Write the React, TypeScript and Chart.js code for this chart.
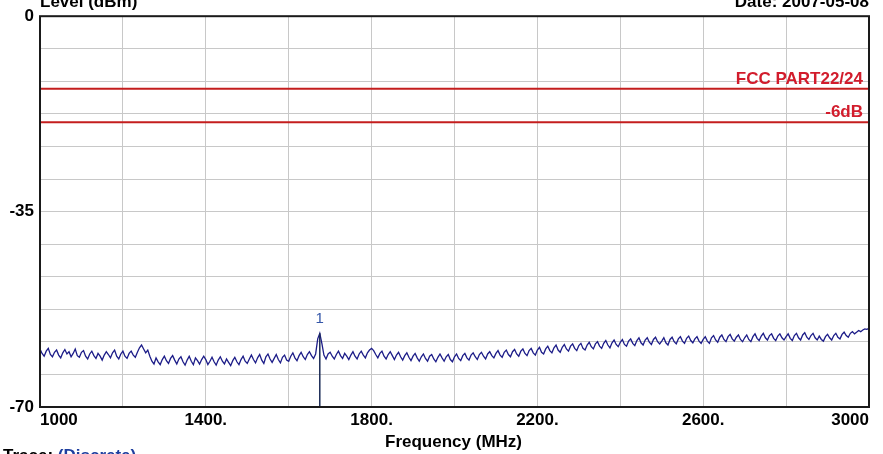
import React, { useEffect, useRef } from 'react';
import { Chart, registerables } from 'chart.js';

Chart.register(...registerables);

// ---- Data ----
const FREQ_START = 1000; // MHz
const FREQ_STEP = 5; // MHz between trace samples

// Measured level (dBm) every 5 MHz from 1000 to 3000 MHz
const traceLevels: number[] = [
  // 1000-1095
  -59.6, -60.4, -60.9, -60.0, -59.5, -60.6, -61.0, -60.2, -59.8, -60.7, -61.2, -60.3, -59.7, -60.5, -60.1, -61.0, -60.4, -59.6, -60.8, -61.1,
  // 1100-1195
  -60.2, -59.9, -60.9, -61.4, -60.5, -60.0, -60.8, -61.3, -60.4, -60.9, -61.6, -60.7, -60.1, -60.6, -61.2, -60.3, -59.8, -60.9, -61.4, -60.5,
  // 1200-1295
  -60.0, -60.9, -61.3, -60.4, -60.0, -60.7, -61.1, -60.2, -59.4, -58.9, -59.6, -60.3, -59.8, -60.9, -61.8, -62.3, -61.2, -61.9, -62.4, -61.5,
  // 1300-1395
  -60.9, -61.7, -62.2, -61.3, -60.8, -61.6, -62.3, -61.4, -61.0, -61.9, -62.5, -61.6, -60.9, -61.8, -62.4, -61.2, -61.7, -62.3, -61.5, -60.9,
  // 1400-1495
  -61.5, -62.4, -61.8, -61.1, -61.9, -62.5, -61.6, -61.0, -61.8, -62.3, -61.4, -62.0, -62.6, -61.7, -61.1, -61.9, -62.4, -61.5, -60.9, -61.8,
  // 1500-1595
  -62.2, -61.4, -60.7, -61.5, -62.1, -61.2, -60.6, -61.6, -62.2, -61.0, -60.5, -61.4, -62.0, -61.3, -60.6, -61.5, -62.1, -61.1, -60.7, -61.6,
  // 1600-1695
  -61.8, -60.9, -60.3, -61.2, -61.7, -60.8, -60.2, -61.0, -61.5, -60.6, -60.1, -60.8, -61.3, -60.5, -57.8, -56.8, -58.6, -60.7, -61.4, -60.5,
  // 1700-1795
  -60.2, -60.9, -61.4, -60.6, -60.0, -60.8, -61.3, -60.4, -60.9, -61.5, -60.7, -60.1, -60.9, -61.4, -60.5, -60.0, -60.7, -61.2, -60.3, -59.8,
  // 1800-1895
  -59.5, -59.9, -60.6, -61.2, -60.4, -60.0, -60.9, -61.4, -60.6, -60.1, -60.8, -61.5, -60.7, -60.2, -61.0, -61.6, -60.8, -60.3, -61.1, -61.7,
  // 1900-1995
  -60.9, -60.4, -61.2, -61.8, -61.0, -60.5, -61.3, -61.8, -60.9, -60.6, -61.4, -61.9, -61.1, -60.5, -61.2, -61.8, -61.0, -60.6, -61.5, -61.9,
  // 2000-2095
  -61.0, -60.5, -61.3, -61.7, -60.8, -60.4, -61.2, -61.6, -60.7, -60.3, -61.0, -61.5, -60.6, -60.2, -60.9, -61.4, -60.5, -60.1, -60.8, -61.2,
  // 2100-2195
  -60.4, -59.9, -60.7, -61.1, -60.2, -59.8, -60.6, -61.0, -60.1, -59.7, -60.5, -60.9, -60.0, -59.6, -60.4, -60.8, -59.9, -59.5, -60.3, -60.7,
  // 2200-2295
  -59.8, -59.3, -60.2, -60.5, -59.6, -59.1, -59.9, -60.3, -59.4, -58.9, -59.8, -60.2, -59.3, -58.8, -59.6, -60.0, -59.1, -58.7, -59.5, -59.9,
  // 2300-2395
  -59.0, -58.6, -59.5, -59.8, -58.9, -58.4, -59.2, -59.6, -58.7, -58.3, -59.1, -59.5, -58.6, -58.1, -58.9, -59.4, -58.5, -58.0, -58.8, -59.2,
  // 2400-2495
  -58.4, -57.9, -58.8, -59.1, -58.2, -57.8, -58.6, -59.0, -58.1, -57.6, -58.5, -58.9, -58.0, -57.6, -58.4, -58.8, -57.9, -57.5, -58.3, -58.7,
  // 2500-2595
  -58.2, -57.6, -58.5, -58.9, -57.9, -57.5, -58.3, -58.7, -57.8, -57.4, -58.2, -58.6, -57.7, -57.3, -58.1, -58.5, -57.8, -57.4, -58.2, -58.6,
  // 2600-2695
  -57.9, -57.4, -58.2, -58.6, -57.6, -57.2, -58.0, -58.4, -57.5, -57.1, -57.9, -58.3, -57.4, -57.0, -57.8, -58.2, -57.5, -57.1, -57.9, -58.3,
  // 2700-2795
  -57.6, -57.1, -57.9, -58.3, -57.4, -56.9, -57.7, -58.1, -57.3, -56.8, -57.6, -58.0, -57.2, -56.9, -57.7, -58.1, -57.3, -56.9, -57.6, -58.0,
  // 2800-2895
  -57.4, -56.9, -57.7, -58.1, -57.2, -56.8, -57.6, -58.0, -57.1, -56.7, -57.5, -57.9, -57.2, -56.8, -57.6, -58.0, -57.3, -57.9, -58.2, -57.4,
  // 2900-2995
  -57.0, -57.6, -58.0, -57.2, -56.8, -57.5, -57.8, -57.0, -56.6, -57.2, -57.5, -56.8, -56.5, -56.9, -56.6, -56.3, -56.5, -56.2, -56.0, -56.1,
  // 3000
  -55.9,
];

// Limit lines
const limitLevels: number[] = [-13, -19];
const limitNames: string[] = ['FCC PART22/24', '-6dB'];

// Marker
const markerFreq = 1675;
const markerLevel = -56.8;
const markerName = '1';

// Axes
const xMin = 1000;
const xMax = 3000;
const xGridStep = 200;
const xLabelValues: number[] = [1000, 1400, 1800, 2200, 2600, 3000];
const xLabelTexts: string[] = ['1000', '1400.', '1800.', '2200.', '2600.', '3000'];

const yMin = -70;
const yMax = 0;
const yDivisions = 12;
const yLabelValues: number[] = [0, -35, -70];
const yLabelTexts: string[] = ['0', '-35', '-70'];

const FONT = '"Liberation Sans", Arial, Helvetica, sans-serif';

const overlayPlugin = {
  id: 'overlay',
  afterDraw(chart: any) {
    const { ctx, chartArea } = chart;
    const ys = chart.scales.y;
    const xs = chart.scales.x;
    const { left, right, top, bottom } = chartArea;
    ctx.save();
    // plot frame
    ctx.strokeStyle = '#1a1a1a';
    ctx.lineWidth = 2;
    ctx.strokeRect(left, top, right - left, bottom - top);

    // limit line labels
    ctx.font = `bold 17px ${FONT}`;
    ctx.fillStyle = '#d21c2c';
    ctx.textAlign = 'right';
    ctx.textBaseline = 'alphabetic';
    limitLevels.forEach((lv, i) => {
      const py = ys.getPixelForValue(lv);
      ctx.fillText(limitNames[i], right - 6, py - 5);
    });

    // marker label
    ctx.font = `15px ${FONT}`;
    ctx.fillStyle = '#3456a8';
    ctx.textAlign = 'center';
    ctx.fillText(markerName, xs.getPixelForValue(markerFreq), ys.getPixelForValue(markerLevel) - 10);

    // titles
    ctx.font = `bold 17px ${FONT}`;
    ctx.fillStyle = '#000';
    ctx.textAlign = 'left';
    ctx.fillText('Level (dBm)', left, 7);
    ctx.textAlign = 'right';
    ctx.fillText('Date: 2007-05-08', right, 7);
    ctx.textAlign = 'center';
    ctx.fillText('Frequency (MHz)', (left + right) / 2 - 1, bottom + 40);

    ctx.textAlign = 'left';
    ctx.fillText('Trace:', 3, 461);
    const w = ctx.measureText('Trace: ').width;
    ctx.fillStyle = '#1f3f9f';
    ctx.fillText('(Discrete)', 3 + w, 461);
    ctx.restore();
  },
};

export default function App() {
  const canvasRef = useRef<HTMLCanvasElement | null>(null);

  useEffect(() => {
    document.body.style.margin = '0';
    const canvas = canvasRef.current;
    if (!canvas) return;

    const tracePoints = traceLevels.map((v, i) => ({ x: FREQ_START + i * FREQ_STEP, y: v }));
    const limitDatasets = limitLevels.map((lv) => ({
      data: [
        { x: xMin, y: lv },
        { x: xMax, y: lv },
      ],
      borderColor: '#c41e1e',
      borderWidth: 2,
      pointRadius: 0,
    }));

    const chart = new Chart(canvas, {
      type: 'line',
      data: {
        datasets: [
          ...limitDatasets,
          {
            data: [
              { x: markerFreq, y: markerLevel },
              { x: markerFreq, y: yMin },
            ],
            borderColor: '#1a2a55',
            borderWidth: 1.5,
            pointRadius: 0,
          },
          {
            data: tracePoints,
            borderColor: '#1c1c88',
            borderWidth: 1.3,
            pointRadius: 0,
          },
        ],
      },
      options: {
        animation: false,
        responsive: false,
        devicePixelRatio: 1,
        layout: { padding: { top: 14, right: 14, left: 0, bottom: 0 } },
        plugins: { legend: { display: false }, tooltip: { enabled: false } },
        elements: { line: { tension: 0 }, point: { radius: 0 } },
        scales: {
          x: {
            type: 'linear',
            min: xMin,
            max: xMax,
            afterFit: (s: any) => {
              s.height = 47;
            },
            afterBuildTicks: (s: any) => {
              const t = [];
              for (let v = xMin; v <= xMax; v += xGridStep) t.push({ value: v });
              s.ticks = t;
            },
            ticks: {
              autoSkip: false,
              maxRotation: 0,
              align: 'inner',
              padding: 3,
              color: '#000',
              font: { family: FONT, size: 17, weight: 'bold' },
              callback: (v: any) => {
                const i = xLabelValues.indexOf(Number(v));
                return i >= 0 ? xLabelTexts[i] : '';
              },
            },
            grid: { color: '#c8c8c8', drawTicks: false, lineWidth: 1 },
            border: { display: false },
          },
          y: {
            type: 'linear',
            min: yMin,
            max: yMax,
            afterFit: (s: any) => {
              s.width = 40;
            },
            afterBuildTicks: (s: any) => {
              const t = [];
              for (let k = 0; k <= yDivisions; k++) t.push({ value: yMin + ((yMax - yMin) * k) / yDivisions });
              s.ticks = t;
            },
            ticks: {
              autoSkip: false,
              padding: 6,
              color: '#000',
              font: { family: FONT, size: 17, weight: 'bold' },
              callback: (v: any) => {
                const i = yLabelValues.findIndex((lv) => Math.abs(lv - Number(v)) < 1e-6);
                return i >= 0 ? yLabelTexts[i] : '';
              },
            },
            grid: { color: '#c8c8c8', drawTicks: false, lineWidth: 1 },
            border: { display: false },
          },
        },
      } as any,
      plugins: [overlayPlugin],
    });

    return () => {
      chart.destroy();
    };
  }, []);

  return <canvas ref={canvasRef} width={883} height={454} style={{ display: 'block' }} />;
}
